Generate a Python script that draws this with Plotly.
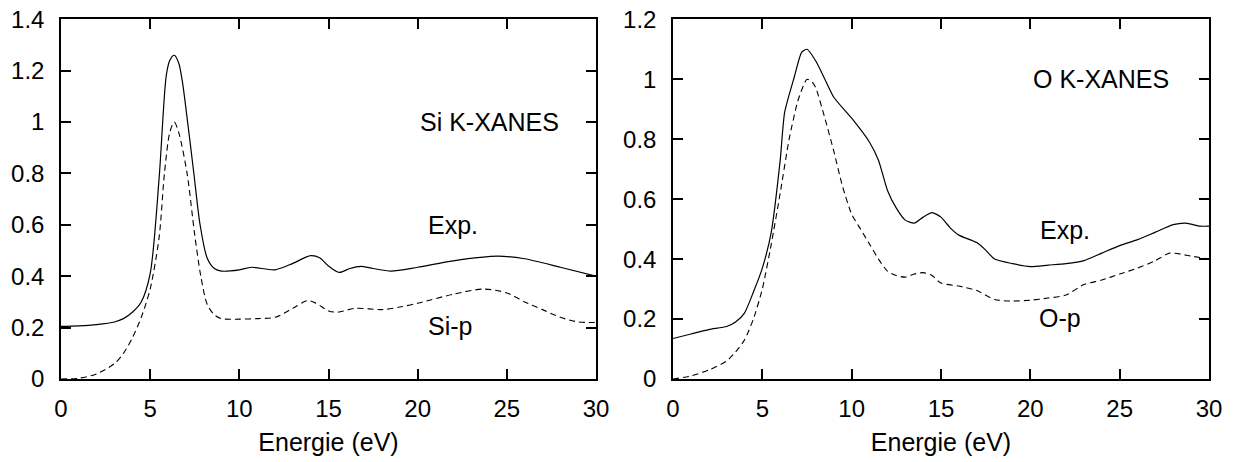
import plotly.graph_objects as go

# ---- Si K-XANES (left panel) ----
si_exp_x = [0, 1, 2, 3, 3.5, 4, 4.5, 5, 5.5, 5.9, 6.1, 6.35, 6.6, 6.8, 7.1, 7.45, 7.8, 8.2, 8.6, 9, 10, 10.7,
            12, 13, 14, 14.5, 15, 15.6, 16.2, 16.8, 17.5, 18.5, 20, 22, 24.5, 26, 28, 30]
si_exp_y = [0.205, 0.207, 0.212, 0.222, 0.235, 0.26, 0.3, 0.41, 0.78, 1.18, 1.24, 1.26, 1.23, 1.16, 1.0, 0.8,
            0.6, 0.47, 0.43, 0.42, 0.425, 0.435, 0.425, 0.45, 0.48, 0.472, 0.44, 0.415, 0.43, 0.438, 0.43,
            0.42, 0.435, 0.46, 0.478, 0.468, 0.435, 0.40]
si_p_x = [0, 1, 2, 3, 3.5, 4, 4.5, 5, 5.5, 5.8, 6.1, 6.35, 6.6, 7.07, 7.5, 7.84, 8.2, 8.6, 9, 10, 11, 12, 13,
          13.8, 14.3, 15, 15.5, 16.5, 18, 19, 20, 22, 23.7, 25, 26, 27, 28, 29, 30]
si_p_y = [0.0, 0.003, 0.02, 0.06, 0.1, 0.16, 0.24, 0.35, 0.55, 0.8, 0.96, 1.0, 0.96, 0.8, 0.56, 0.4, 0.29,
          0.25, 0.235, 0.233, 0.235, 0.24, 0.275, 0.305, 0.295, 0.265, 0.26, 0.275, 0.27, 0.28, 0.295, 0.33,
          0.35, 0.335, 0.3, 0.27, 0.24, 0.222, 0.22]

# ---- O K-XANES (right panel) ----
o_exp_x = [0, 1, 2, 3, 3.5, 4, 4.5, 5, 5.5, 6, 6.25, 6.8, 7.2, 7.5, 8, 8.5, 9, 10, 11, 11.5, 12, 12.5, 13,
           13.5, 14, 14.5, 15, 15.5, 16, 17, 17.5, 18, 19, 20, 21, 22, 23, 24, 25, 26, 27, 28, 28.7, 29.5, 30]
o_exp_y = [0.135, 0.15, 0.165, 0.175, 0.19, 0.22, 0.29, 0.37, 0.49, 0.73, 0.89, 1.01, 1.09, 1.1, 1.06, 1.0,
           0.94, 0.87, 0.79, 0.73, 0.63, 0.57, 0.53, 0.52, 0.54, 0.555, 0.54, 0.505, 0.48, 0.455, 0.43, 0.4,
           0.385, 0.375, 0.38, 0.385, 0.395, 0.42, 0.445, 0.465, 0.49, 0.515, 0.52, 0.51, 0.51]
o_p_x = [0, 1, 2, 3, 3.5, 4, 4.5, 5, 5.5, 6, 6.5, 7, 7.5, 7.8, 8, 8.5, 9, 9.5, 10, 10.5, 11, 11.5, 12, 12.5,
         13, 13.5, 14, 14.5, 15, 16, 17, 18, 19, 20, 21, 22, 23, 24, 25, 26, 27, 27.8, 29, 30]
o_p_y = [0.0, 0.01, 0.03, 0.06, 0.09, 0.13, 0.2, 0.3, 0.45, 0.62, 0.8, 0.93, 1.0, 0.99, 0.97, 0.87, 0.76,
         0.64, 0.55, 0.5, 0.45, 0.4, 0.36, 0.345, 0.34, 0.35, 0.355, 0.345, 0.32, 0.31, 0.295, 0.265, 0.26,
         0.263, 0.27, 0.28, 0.315, 0.33, 0.35, 0.37, 0.395, 0.42, 0.41, 0.40]

x_ticks = [0, 5, 10, 15, 20, 25, 30]
y1_ticks = [0, 0.2, 0.4, 0.6, 0.8, 1.0, 1.2, 1.4]
y1_labels = ["0", "0.2", "0.4", "0.6", "0.8", "1", "1.2", "1.4"]
y2_ticks = [0, 0.2, 0.4, 0.6, 0.8, 1.0, 1.2]
y2_labels = ["0", "0.2", "0.4", "0.6", "0.8", "1", "1.2"]

FONT = "Liberation Sans, Arial, sans-serif"
solid = dict(color="black", width=1.2)
dashed = dict(color="black", width=1.1, dash="6px,4px")

fig = go.Figure()
fig.add_trace(go.Scatter(x=si_exp_x, y=si_exp_y, mode="lines", line=dict(**solid, shape="spline", smoothing=0.8),
                         xaxis="x", yaxis="y"))
fig.add_trace(go.Scatter(x=si_p_x, y=si_p_y, mode="lines", line=dict(**dashed, shape="spline", smoothing=0.8),
                         xaxis="x", yaxis="y"))
fig.add_trace(go.Scatter(x=o_exp_x, y=o_exp_y, mode="lines", line=dict(**solid, shape="spline", smoothing=0.6),
                         xaxis="x2", yaxis="y2"))
fig.add_trace(go.Scatter(x=o_p_x, y=o_p_y, mode="lines", line=dict(**dashed, shape="spline", smoothing=0.6),
                         xaxis="x2", yaxis="y2"))

ax_common = dict(showline=True, linecolor="black", linewidth=1.5, mirror="ticks", ticks="inside",
                 ticklen=10, tickwidth=1.5, tickcolor="black", showgrid=False, zeroline=False,
                 tickfont=dict(family=FONT, size=24, color="black"), automargin=False)

xdom1 = [61 / 1240, 596 / 1240]
xdom2 = [673 / 1240, 1209 / 1240]
ydom = [(462 - 379) / 462, (462 - 19.3) / 462]
title_font = dict(family=FONT, size=25, color="black")

fig.update_layout(
    width=1240, height=462,
    margin=dict(l=0, r=0, t=0, b=0),
    paper_bgcolor="white", plot_bgcolor="white",
    showlegend=False,
    xaxis=dict(**ax_common, domain=xdom1, range=[0, 30], tickvals=x_ticks, anchor="y",
               title=dict(text="Energie (eV)", font=title_font, standoff=13),
               ticklabelstandoff=7),
    yaxis=dict(**ax_common, domain=ydom, range=[0, 1.4], tickvals=y1_ticks, ticktext=y1_labels, anchor="x",
               ticklabelstandoff=10),
    xaxis2=dict(**ax_common, domain=xdom2, range=[0, 30], tickvals=x_ticks, anchor="y2",
                title=dict(text="Energie (eV)", font=title_font, standoff=13),
                ticklabelstandoff=7),
    yaxis2=dict(**ax_common, domain=ydom, range=[0, 1.2], tickvals=y2_ticks, ticktext=y2_labels, anchor="x2",
                ticklabelstandoff=10),
)

ann_font = dict(family=FONT, size=25, color="black")
for txt, x, y, xr, yr in [
    ("Si K-XANES", 24.05, 1.0, "x", "y"),
    ("Exp.", 22.0, 0.6, "x", "y"),
    ("Si-p", 21.8, 0.206, "x", "y"),
    ("O K-XANES", 23.95, 1.0, "x2", "y2"),
    ("Exp.", 21.94, 0.497, "x2", "y2"),
    ("O-p", 21.66, 0.203, "x2", "y2"),
]:
    fig.add_annotation(text=txt, x=x, y=y, xref=xr, yref=yr, showarrow=False, font=ann_font,
                       xanchor="center", yanchor="middle")

fig.write_html("out.html")
